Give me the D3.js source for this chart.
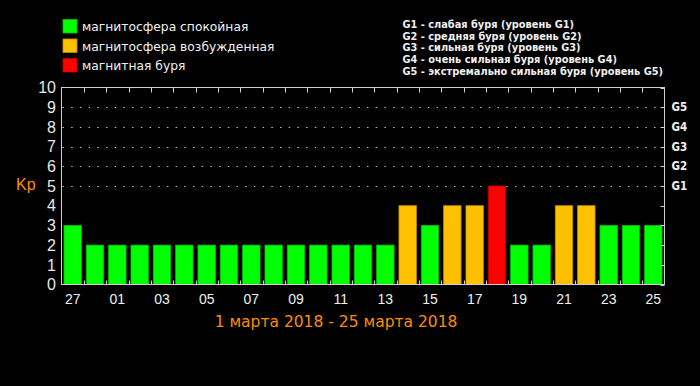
<!DOCTYPE html>
<html><head><meta charset="utf-8">
<script src="https://cdn.jsdelivr.net/npm/d3@7"></script>
<style>html,body{margin:0;padding:0;background:#000;}svg{display:block;}</style>
</head><body>
<script>
const days = ["27","28","01","02","03","04","05","06","07","08","09","10","11","12","13","14","15","16","17","18","19","20","21","22","23","24","25"];
const kp = [3,2,2,2,2,2,2,2,2,2,2,2,2,2,2,4,3,4,4,5,2,2,4,4,3,3,3];
const yTicks = [0,1,2,3,4,5,6,7,8,9,10];
const gLevels = [{v:5,t:"G1"},{v:6,t:"G2"},{v:7,t:"G3"},{v:8,t:"G4"},{v:9,t:"G5"}];
const legendItems = [
  {c:"#00ff00", t:"магнитосфера спокойная"},
  {c:"#ffc000", t:"магнитосфера возбужденная"},
  {c:"#ff0000", t:"магнитная буря"}
];
const gLegend = [
  "G1 - слабая буря (уровень G1)",
  "G2 - средняя буря (уровень G2)",
  "G3 - сильная буря (уровень G3)",
  "G4 - очень сильная буря (уровень G4)",
  "G5 - экстремально сильная буря (уровень G5)"
];
const title = "1 марта 2018 - 25 марта 2018";

const W = 700, H = 386;
const L = 61.5, R = 664.5, T = 87.5, B = 284.5;
const svg = d3.select("body").append("svg").attr("width", W).attr("height", H);
svg.append("rect").attr("width", W).attr("height", H).attr("fill", "#000");

const x = d3.scaleBand().domain(d3.range(days.length)).range([L, R]).paddingInner(0.22).paddingOuter(0.11);
const y = d3.scaleLinear().domain([0, 10]).range([B, T]);
const color = v => v >= 5 ? "#ff0000" : (v >= 4 ? "#ffc000" : "#00ff00");
const boundary = i => L + (R - L) * i / days.length;

// grid
svg.append("g").selectAll("line").data([5,6,7,8,9]).join("line")
  .attr("x1", L + 1).attr("x2", R).attr("y1", d => Math.round(y(d)) + 0.5).attr("y2", d => Math.round(y(d)) + 0.5)
  .attr("stroke", "#bbbbbb").attr("stroke-width", 1).attr("stroke-dasharray", "1.5 7.2");

// bars
svg.append("g").selectAll("rect").data(kp).join("rect")
  .attr("x", (d, i) => x(i)).attr("width", x.bandwidth())
  .attr("y", d => y(d)).attr("height", d => B - y(d))
  .attr("fill", d => color(d))
  .attr("stroke", d => d3.color(color(d)).darker(0.8)).attr("stroke-width", 0.8);

// top & bottom ticks at band boundaries
const bIdx = d3.range(1, days.length);
svg.append("g").selectAll("line").data(bIdx).join("line")
  .attr("x1", i => Math.round(boundary(i)) + 0.5).attr("x2", i => Math.round(boundary(i)) + 0.5)
  .attr("y1", T).attr("y2", T + 5).attr("stroke", "#d0d0d0");
svg.append("g").selectAll("line").data(bIdx).join("line")
  .attr("x1", i => Math.round(boundary(i)) + 0.5).attr("x2", i => Math.round(boundary(i)) + 0.5)
  .attr("y1", B).attr("y2", B - 4).attr("stroke", "#d0d0d0");
// right inward ticks
svg.append("g").selectAll("line").data(yTicks).join("line")
  .attr("x1", R).attr("x2", R - 4).attr("y1", d => Math.round(y(d)) + 0.5).attr("y2", d => Math.round(y(d)) + 0.5)
  .attr("stroke", "#d0d0d0");

// frame
svg.append("rect").attr("x", L).attr("y", T).attr("width", R - L).attr("height", B - T)
  .attr("fill", "none").attr("stroke", "#d0d0d0").attr("stroke-width", 1);

// y labels
svg.append("g").selectAll("text").data(yTicks).join("text")
  .attr("x", 56).attr("y", d => y(d)).attr("dy", "0.36em").attr("text-anchor", "end")
  .attr("font-family", "Liberation Sans, Arial, sans-serif").attr("font-size", 16).attr("fill", "#e8e8e8")
  .text(d => d);

// Kp
svg.append("text").attr("x", 16).attr("y", 190).attr("font-family", "Liberation Sans, Arial, sans-serif")
  .attr("font-size", 16).attr("fill", "#ff8c00").text("Kp");

// G labels
svg.append("g").selectAll("text").data(gLevels).join("text")
  .attr("x", 671.5).attr("y", d => y(d.v)).attr("dy", "0.36em")
  .attr("font-family", "DejaVu Sans Condensed, DejaVu Sans, sans-serif").attr("font-weight", "bold")
  .attr("font-size", 11.5).attr("fill", "#f0f0f0").text(d => d.t);

// x labels
svg.append("g").selectAll("text").data(days.map((d, i) => ({d, i})).filter(o => o.i % 2 === 0)).join("text")
  .attr("x", o => x(o.i) + x.bandwidth() / 2).attr("y", 304).attr("text-anchor", "middle")
  .attr("font-family", "Liberation Sans, Arial, sans-serif").attr("font-size", 14).attr("fill", "#f0f0f0")
  .text(o => o.d);

// title
svg.append("text").attr("x", 336).attr("y", 327).attr("text-anchor", "middle")
  .attr("font-family", "DejaVu Sans, sans-serif").attr("font-size", 15.5).attr("fill", "#ff8c00")
  .text(title);

// legend left
const lg = svg.append("g").selectAll("g").data(legendItems).join("g")
  .attr("transform", (d, i) => `translate(63,${19.5 + i * 19.5})`);
lg.append("rect").attr("width", 14).attr("height", 13.5).attr("fill", d => d.c)
  .attr("stroke", d => d3.color(d.c).darker(0.8)).attr("stroke-width", 0.8);
lg.append("text").attr("x", 19).attr("y", 11.5)
  .attr("font-family", "DejaVu Sans, sans-serif").attr("font-size", 12.3).attr("fill", "#f0f0f0")
  .text(d => d.t);

// legend right
svg.append("g").selectAll("text").data(gLegend).join("text")
  .attr("x", 402.5).attr("y", (d, i) => 28 + i * 11.7)
  .attr("font-family", "DejaVu Sans Condensed, DejaVu Sans, sans-serif").attr("font-weight", "bold")
  .attr("font-size", 10.9).attr("fill", "#f0f0f0")
  .text(d => d);
</script>
</body></html>
